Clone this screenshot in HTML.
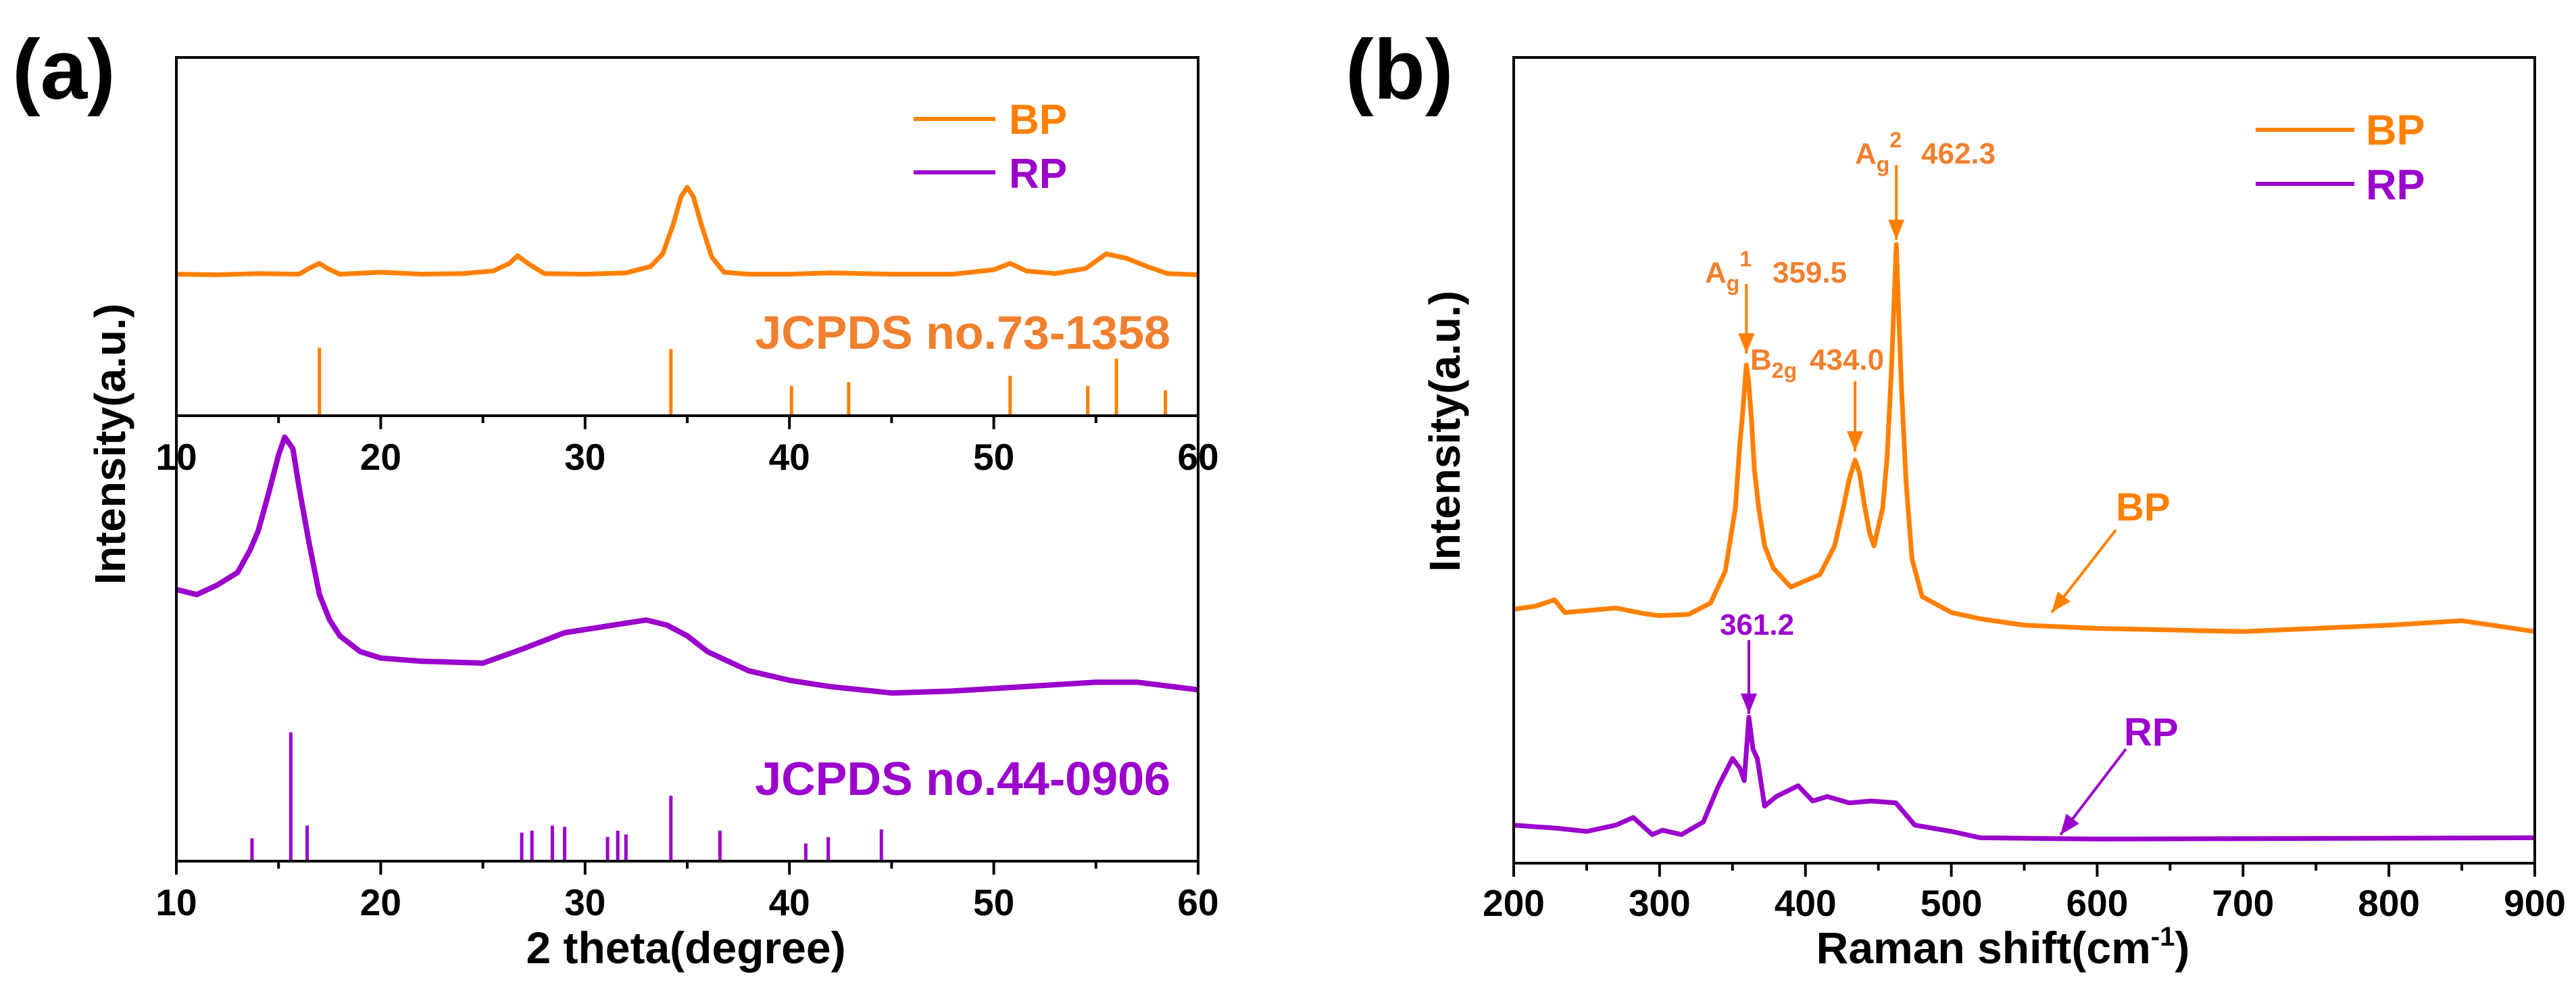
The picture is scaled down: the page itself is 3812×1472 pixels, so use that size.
<!DOCTYPE html>
<html><head><meta charset="utf-8"><style>
html,body{margin:0;padding:0;background:#fff;}
svg{display:block;font-family:"Liberation Sans",Arial,sans-serif;font-weight:bold;}
</style></head><body>
<svg id="fig" width="3812" height="1472" viewBox="0 0 3812 1472" xmlns="http://www.w3.org/2000/svg">
<rect width="3812" height="1472" fill="#fff"/>
<g id="pa"></g>
<g id="pb"></g>
</svg>
<script>
// ===== Panel (a) XRD data =====
const xrdTicks = [10,20,30,40,50,60];
const bpTheta = [10,12,14,16,16.6,17,17.4,18,20,22,24,25.5,26.3,26.7,27.2,28,30,32,33.2,33.8,34.3,34.7,35,35.3,35.7,36.2,36.8,38,40,42,45,48,50,50.8,51.6,53,54.5,55.5,56.5,57.5,58.5,60];
const bpInt = [223,222,224,223,234,240,232,223,226,223,224,228,240,252,240,224,223,225,235,255,300,345,360,345,300,250,226,223,223,225,223,223,230,240,228,224,232,255,248,235,224,222];
const bpRefTheta = [17.0,34.2,40.1,42.9,50.8,54.6,56.0,58.4];
const bpRefInt = [107,105,47,53,63,47,90,40];
const rpTheta = [10,11,12,13,13.6,14,14.5,15,15.3,15.7,16,16.5,17,17.5,18,19,20,22,25,27,29,31,33,34,35,36,38,40,42,45,48,50,53,55,57,60];
const rpInt = [428,420,435,455,490,520,578,640,668,650,590,500,420,380,355,330,320,315,312,335,360,370,380,372,355,330,300,285,275,265,268,272,278,282,282,270];
const rpRefTheta = [13.7,15.6,16.4,26.9,27.4,28.4,29.0,31.1,31.6,32.0,34.2,36.6,40.8,41.9,44.5];
const rpRefInt = [36,203,56,45,48,56,54,38,48,42,103,48,28,38,50];
// ===== Panel (b) Raman data =====
const ramanTicks = [200,300,400,500,600,700,800,900];
const bpShift = [200,215,228,235,250,270,290,300,320,335,345,352,355,357,359.5,361,363,365,368,372,378,390,410,420,426,430,434,437,440,444,447,453,456,459,462.3,464,466,469,473,480,500,520,550,600,700,800,850,900];
const bpRaman = [400,405,415,395,398,402,393,390,392,410,460,560,660,710,785,760,700,620,560,500,465,435,455,500,560,605,635,615,570,520,500,560,640,780,975,860,740,600,480,420,395,385,375,370,365,375,382,365];
const rpShift = [200,230,250,270,282,295,302,315,330,340,350,355,358,361.2,364,367,372,380,395,405,415,430,445,462,475,500,520,600,900];
const rpRaman = [60,55,50,60,72,45,52,45,65,120,165,150,130,230,180,165,90,105,122,98,105,95,98,95,60,50,40,38,40];

const NS='http://www.w3.org/2000/svg';
function mk(parent,tag,attrs,name,text){
  const el=document.createElementNS(NS,tag);
  for(const k in attrs) el.setAttribute(k,attrs[k]);
  
  
  if(text!==undefined) el.textContent=text;
  parent.appendChild(el);
  return el;
}
const OR='#FF8000', ORT='#F0802E', PU='#9B00CC';
const K=0.939;

// ---- Panel a ----
const pa=document.getElementById('pa');
const aL=261,aR=1773,aT=85,aM=615,aB=1274;
const ax=t=>aL+(t-10)/50*(aR-aL);
const ayTop=v=>aM-v*K, ayBot=v=>aB-v*K;
function path(xs,ys,fx,fy){return xs.map((x,i)=>(i?'L':'M')+fx(x).toFixed(1)+' '+fy(ys[i]).toFixed(1)).join(' ');}
mk(pa,'path',{d:path(bpTheta,bpInt,ax,ayTop),fill:'none',stroke:OR,'stroke-width':7,'stroke-linejoin':'round'},'bp-xrd-line');
mk(pa,'path',{d:path(rpTheta,rpInt,ax,ayBot),fill:'none',stroke:PU,'stroke-width':8,'stroke-linejoin':'round'},'rp-xrd-line');
bpRefTheta.forEach((t,i)=>{mk(pa,'line',{x1:ax(t),x2:ax(t),y1:aM,y2:ayTop(bpRefInt[i]),stroke:OR,'stroke-width':5},'bp-reference-bar');});
rpRefTheta.forEach((t,i)=>{mk(pa,'line',{x1:ax(t),x2:ax(t),y1:aB,y2:ayBot(rpRefInt[i]),stroke:PU,'stroke-width':5},'rp-reference-bar');});
mk(pa,'rect',{x:aL,y:aT,width:aR-aL,height:aB-aT,fill:'none',stroke:'#000','stroke-width':4},'panel-a-frame');
mk(pa,'line',{x1:aL,x2:aR,y1:aM,y2:aM,stroke:'#000','stroke-width':4},'middle-x-axis');
[aM,aB].forEach((yy,j)=>{
  for(let t=10;t<=60;t+=5){
    const major=t%10===0;
    mk(pa,'line',{x1:ax(t),x2:ax(t),y1:yy,y2:yy+(major?20:11),stroke:'#000','stroke-width':4},'x-tick');
  }
  xrdTicks.forEach(t=>{mk(pa,'text',{x:ax(t),y:yy+80,'font-size':55,'text-anchor':'middle',fill:'#000'},'x-tick-label',String(t));});
});
mk(pa,'text',{x:1015,y:1425,'font-size':66,'text-anchor':'middle'},'x-axis-title','2 theta(degree)');
mk(pa,'text',{x:0,y:0,'font-size':64,'text-anchor':'middle',transform:'translate(185,657) rotate(-90)'},'y-axis-title','Intensity(a.u.)');
mk(pa,'text',{x:18,y:146,'font-size':125},'panel-label-a','(a)');
mk(pa,'text',{x:1732,y:516,'font-size':70,'text-anchor':'end',fill:ORT},'bp-jcpds-label','JCPDS no.73-1358');
mk(pa,'text',{x:1732,y:1176,'font-size':70,'text-anchor':'end',fill:PU},'rp-jcpds-label','JCPDS no.44-0906');
mk(pa,'line',{x1:1352,x2:1473,y1:176,y2:176,stroke:OR,'stroke-width':6},'legend-bp-line');
mk(pa,'text',{x:1493,y:198,'font-size':62,fill:OR},'legend-bp-text','BP');
mk(pa,'line',{x1:1352,x2:1473,y1:255,y2:255,stroke:PU,'stroke-width':6},'legend-rp-line');
mk(pa,'text',{x:1493,y:278,'font-size':62,fill:PU},'legend-rp-text','RP');

// ---- Panel b ----
const pb=document.getElementById('pb');
const bL=2240,bR=3751,bT=85,bB=1277;
const bx=s=>bL+(s-200)/700*(bR-bL);
const by=v=>bB-v*K;
mk(pb,'path',{d:path(bpShift,bpRaman,bx,by),fill:'none',stroke:OR,'stroke-width':7,'stroke-linejoin':'round'},'bp-raman-line');
mk(pb,'path',{d:path(rpShift,rpRaman,bx,by),fill:'none',stroke:PU,'stroke-width':7,'stroke-linejoin':'round'},'rp-raman-line');
mk(pb,'rect',{x:bL,y:bT,width:bR-bL,height:bB-bT,fill:'none',stroke:'#000','stroke-width':4},'panel-b-frame');
for(let s=200;s<=900;s+=50){
  const major=s%100===0;
  mk(pb,'line',{x1:bx(s),x2:bx(s),y1:bB,y2:bB+(major?20:11),stroke:'#000','stroke-width':4},'x-tick');
}
ramanTicks.forEach(s=>{mk(pb,'text',{x:bx(s),y:bB+78,'font-size':55,'text-anchor':'middle'},'x-tick-label',String(s));});
const xt=mk(pb,'text',{x:2964,y:1425,'font-size':66,'text-anchor':'middle'},'x-axis-title','Raman shift(cm');
const sup=document.createElementNS(NS,'tspan');sup.setAttribute('dy','-26');sup.setAttribute('font-size','40');sup.textContent='-1';xt.appendChild(sup);
const cl=document.createElementNS(NS,'tspan');cl.setAttribute('dy','26');cl.textContent=')';xt.appendChild(cl);
mk(pb,'text',{x:0,y:0,'font-size':64,'text-anchor':'middle',transform:'translate(2160,638) rotate(-90)'},'y-axis-title','Intensity(a.u.)');
mk(pb,'text',{x:1991,y:146,'font-size':125},'panel-label-b','(b)');
mk(pb,'line',{x1:3338,x2:3484,y1:192,y2:192,stroke:OR,'stroke-width':6},'legend-bp-line');
mk(pb,'text',{x:3501,y:214,'font-size':63,fill:OR},'legend-bp-text','BP');
mk(pb,'line',{x1:3338,x2:3484,y1:272,y2:272,stroke:PU,'stroke-width':6},'legend-rp-line');
mk(pb,'text',{x:3501,y:295,'font-size':63,fill:PU},'legend-rp-text','RP');

function arrow(x1,y1,x2,y2,col,name){
  mk(pb,'line',{x1:x1,y1:y1,x2:x2-(x2-x1)*0.001,y2:y2,stroke:col,'stroke-width':4},name);
  const a=Math.atan2(y2-y1,x2-x1),L=30,W=12;
  const p=[[x2,y2],[x2-L*Math.cos(a)+W*Math.sin(a),y2-L*Math.sin(a)-W*Math.cos(a)],[x2-L*Math.cos(a)-W*Math.sin(a),y2-L*Math.sin(a)+W*Math.cos(a)]];
  mk(pb,'polygon',{points:p.map(q=>q.join(',')).join(' '),fill:col},name+'-head');
}
function label(x,y,main,sub,supT,rest,col,name){
  const t=mk(pb,'text',{x:x,y:y,'font-size':44,fill:col},name,main);
  if(sub){const s=document.createElementNS(NS,'tspan');s.setAttribute('dy','12');s.setAttribute('font-size','32');s.textContent=sub;t.appendChild(s);}
  if(supT){const s=document.createElementNS(NS,'tspan');s.setAttribute('dy','-36');s.setAttribute('font-size','32');s.textContent=supT;t.appendChild(s);}
  if(rest){const s=document.createElementNS(NS,'tspan');s.setAttribute('dy',sub&&supT?'24':(sub?'-12':'0'));s.textContent=rest;t.appendChild(s);}
}
label(2523,418,'A','g','1','',ORT,'ag1-label');
mk(pb,'text',{x:2623,y:418,'font-size':44,fill:ORT},'ag1-value','359.5');
label(2745,242,'A','g','2','',ORT,'ag2-label');
mk(pb,'text',{x:2843,y:242,'font-size':44,fill:ORT},'ag2-value','462.3');
label(2590,547,'B','2g','','',ORT,'b2g-label');
mk(pb,'text',{x:2678,y:547,'font-size':44,fill:ORT},'b2g-value','434.0');
arrow(bx(359.5),420,bx(359.5),523,OR,'ag1-arrow');
arrow(bx(462.3),244,bx(462.3),355,OR,'ag2-arrow');
arrow(bx(434),564,bx(434),668,OR,'b2g-arrow');
mk(pb,'text',{x:2600,y:939,'font-size':44,fill:PU,'text-anchor':'middle'},'rp-peak-value','361.2');
arrow(bx(361.2),947,bx(361.2),1056,PU,'rp-peak-arrow');
mk(pb,'text',{x:3131,y:770,'font-size':58,fill:OR},'bp-curve-label','BP');
arrow(3131,784,3036,906,OR,'bp-curve-arrow');
mk(pb,'text',{x:3143,y:1103,'font-size':58,fill:PU},'rp-curve-label','RP');
arrow(3146,1108,3049,1235,PU,'rp-curve-arrow');
</script>
</body></html>
